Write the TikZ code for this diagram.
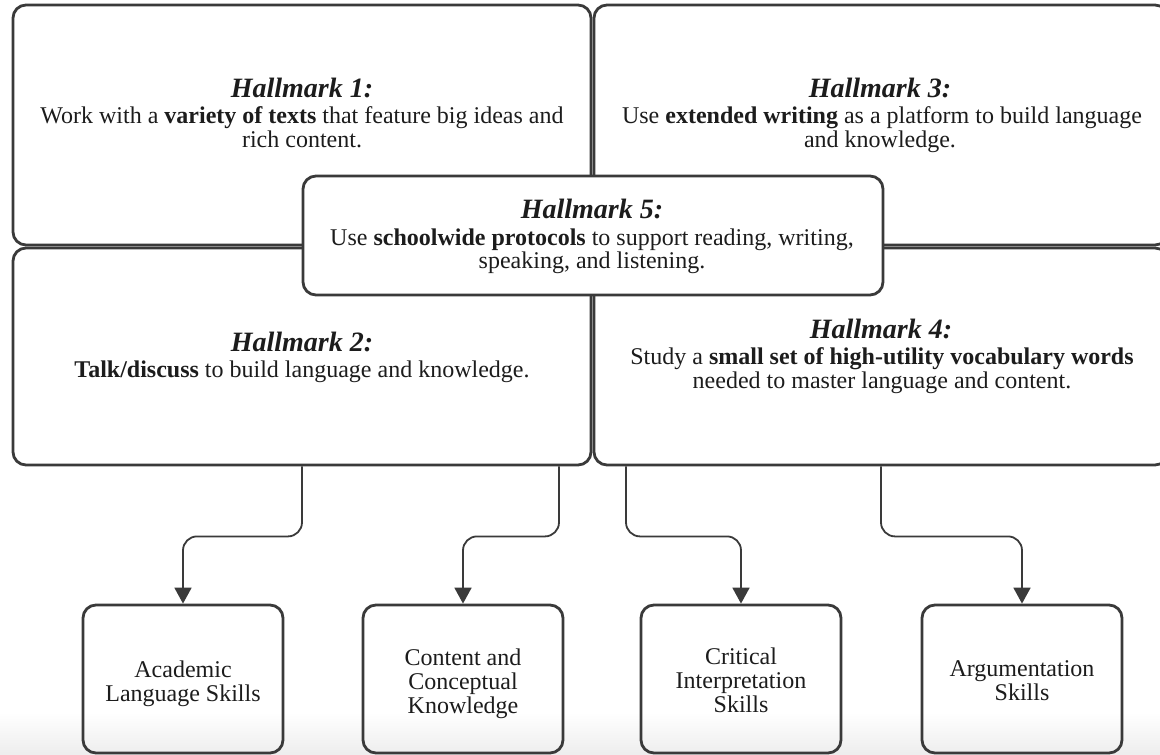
\documentclass[tikz,border=0pt]{standalone}
\usepackage{fontspec}
\setmainfont{Liberation Serif}
\usetikzlibrary{arrows.meta}
\definecolor{edge}{HTML}{3A3A3A}
\definecolor{ink}{HTML}{1C1C1C}
\begin{document}
\begin{tikzpicture}[x=1pt,y=-1pt,
 hbox/.style={draw=edge, line width=2.8pt, rounded corners=13pt, inner sep=0pt},
 sbox/.style={draw=edge, line width=2.8pt, rounded corners=13pt, minimum width=200pt, minimum height=148pt, inner sep=0pt},
 hmtitle/.style={anchor=base, inner sep=0pt, text=ink, font=\fontsize{28}{30}\selectfont\bfseries\itshape},
 txt/.style={anchor=base, inner sep=0pt, text=ink, font=\fontsize{24}{26}\selectfont},
 conn/.style={draw=edge, line width=1.8pt, rounded corners=14pt, -{Triangle[width=17pt,length=16pt]}}]
\clip (0,0) rectangle (1160,755);
\fill[white] (0,0) rectangle (1160,755);
\fill[top color=white, bottom color=black!7] (0,712) rectangle (1160,755);

% hallmark boxes
\node[hbox, minimum width=578pt, minimum height=240pt] (h1) at (302,125) {};
\node[hbox, minimum width=574pt, minimum height=240pt] (h3) at (881,125) {};
\node[hbox, minimum width=578pt, minimum height=217pt] (h2) at (302,356.5) {};
\node[hbox, minimum width=574pt, minimum height=217pt] (h4) at (881,356.5) {};
\node[hbox, fill=white, minimum width=580pt, minimum height=119pt] (h5) at (593,235.5) {};

% hallmark texts
\node[hmtitle] (h1t) at (302,97) {Hallmark 1:};
\node[txt] (h1a) at (302,123) {Work with a \textbf{variety of texts} that feature big ideas and};
\node[txt] (h1b) at (302,147) {rich content.};

\node[hmtitle] (h3t) at (880,97) {Hallmark 3:};
\node[txt] (h3a) at (882,123) {Use \textbf{extended writing} as a platform to build language};
\node[txt] (h3b) at (880,147) {and knowledge.};

\node[hmtitle] (h5t) at (592,218) {Hallmark 5:};
\node[txt] (h5a) at (592,245) {Use \textbf{schoolwide protocols} to support reading, writing,};
\node[txt] (h5b) at (592,268) {speaking, and listening.};

\node[hmtitle] (h2t) at (302,351) {Hallmark 2:};
\node[txt] (h2a) at (302,377) {\textbf{Talk/discuss} to build language and knowledge.};

\node[hmtitle] (h4t) at (881,338) {Hallmark 4:};
\node[txt] (h4a) at (882,364) {Study a \textbf{small set of high-utility vocabulary words}};
\node[txt] (h4b) at (882,388) {needed to master language and content.};

% skill boxes
\node[sbox] (b1) at (183,679) {};
\node[sbox] (b2) at (463,679) {};
\node[sbox] (b3) at (741,679) {};
\node[sbox] (b4) at (1022,679) {};

\node[txt] (b1a) at (183,677) {Academic};
\node[txt] (b1b) at (183,701) {Language Skills};

\node[txt] (b2a) at (463,665) {Content and};
\node[txt] (b2b) at (463,689) {Conceptual};
\node[txt] (b2c) at (463,713) {Knowledge};

\node[txt] (b3a) at (741,664) {Critical};
\node[txt] (b3b) at (741,688) {Interpretation};
\node[txt] (b3c) at (741,712) {Skills};

\node[txt] (b4a) at (1022,676) {Argumentation};
\node[txt] (b4b) at (1022,700) {Skills};

% connectors
\draw[conn] (h2.south) -- ++(0,70) -| (b1.north);
\draw[conn] ([xshift=257pt]h2.south) -- ++(0,70) -| (b2.north);
\draw[conn] ([xshift=-255pt]h4.south) -- ++(0,70) -| (b3.north);
\draw[conn] (h4.south) -- ++(0,70) -| (b4.north);
\end{tikzpicture}
\end{document}
